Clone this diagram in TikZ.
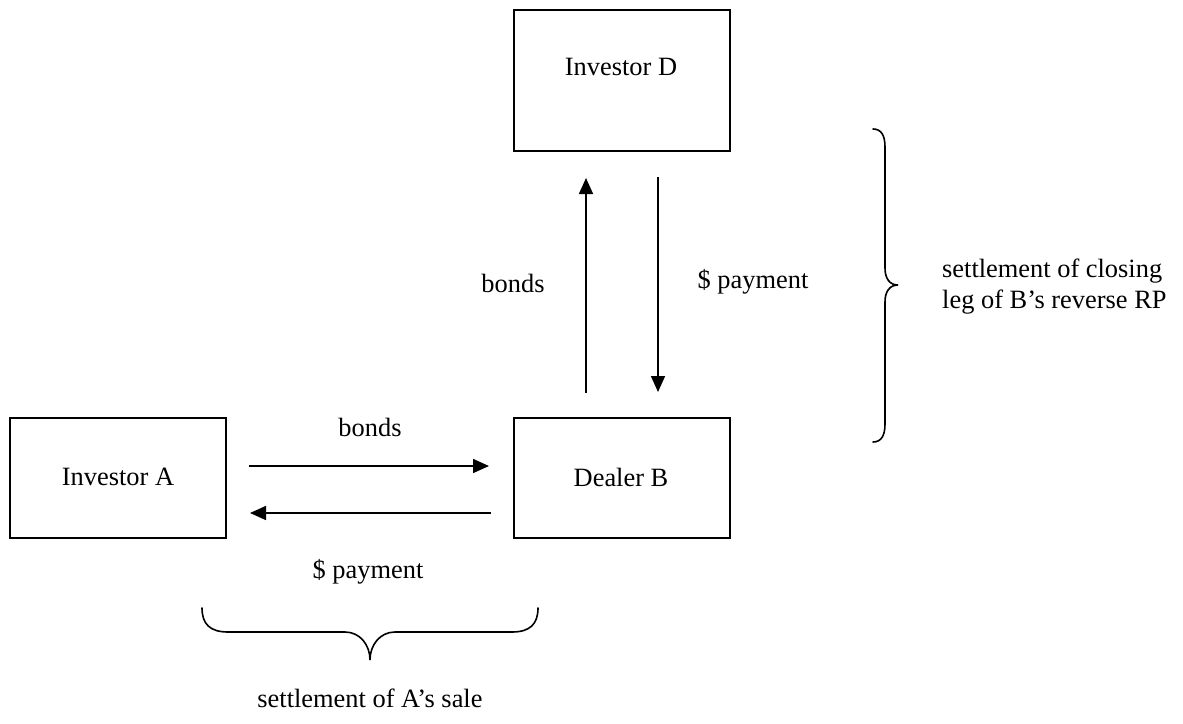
\documentclass[tikz,border=0pt]{standalone}
\usepackage{fontspec}
\setmainfont{Liberation Serif}
\usetikzlibrary{arrows.meta}
\begin{document}
\begin{tikzpicture}[x=1pt,y=-1pt,
  party/.style={draw,line width=1.6pt,minimum width=216pt,minimum height=#1,
    anchor=north west,inner sep=0pt,text depth=0pt},
  flow/.style={line width=1.6pt,-{Triangle[length=16pt,width=14pt]}},
  brace/.style={line width=1.6pt,line cap=round},
  lbl/.style={font=\fontsize{26.4}{31}\selectfont,inner sep=0pt}]
\useasboundingbox (0,0) rectangle (1183,723);

% parties
\node[party=141pt] (D) at (513,9) {};
\node[party=120pt] (A) at (9,417) {};
\node[party=120pt] (B) at (513,417) {};
\node[lbl] (Dt) at (621,67) {Investor D};
\node[lbl] (At) at (118,477) {Investor A};
\node[lbl] (Bt) at (621,477) {Dealer B};

% arrow end points
\coordinate (ab1) at (249,466);
\coordinate (ab2) at (489,466);
\coordinate (ba1) at (491,513);
\coordinate (ba2) at (250,513);
\coordinate (bd1) at (586,393);
\coordinate (bd2) at (586,178);
\coordinate (db1) at (658,177);
\coordinate (db2) at (658,392);

% flows
\draw[flow] (ab1) -- (ab2);
\draw[flow] (ba1) -- (ba2);
\draw[flow] (bd1) -- (bd2);
\draw[flow] (db1) -- (db2);

\node[lbl] (l1) at (370,427) {bonds};
\node[lbl] (l2) at (368,572) {\$ payment};
\node[lbl] (l3) at (513,283) {bonds};
\node[lbl] (l4) at (753,282) {\$ payment};

% braces
\draw[brace] (873,129) .. controls (881,129) and (885,135) .. (885,147)
  -- (885,268) .. controls (885,279) and (890,285) .. (898,285)
  .. controls (890,285) and (885,291) .. (885,302)
  -- (885,424) .. controls (885,436) and (881,442) .. (873,442);
\draw[brace] (202,608) .. controls (202,624) and (210,632) .. (228,632)
  -- (345,632) .. controls (360,632) and (370,645) .. (370,660)
  .. controls (370,645) and (380,632) .. (395,632)
  -- (512,632) .. controls (530,632) and (538,624) .. (538,608);

\node[lbl,anchor=west,align=left] (r) at (942,287)
  {settlement of closing\\leg of B’s reverse RP};
\node[lbl] (s) at (370,698) {settlement of A’s sale};
\end{tikzpicture}
\end{document}
